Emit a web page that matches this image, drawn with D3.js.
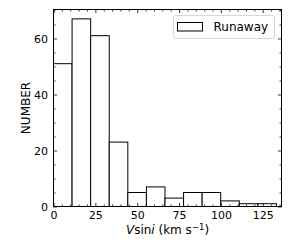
<!DOCTYPE html>
<html>
<head>
<meta charset="utf-8">
<script src="https://cdn.jsdelivr.net/npm/d3@7"></script>
<style>
  body { margin: 0; background: #fff; }
  svg text { font-family: "DejaVu Sans", sans-serif; fill: #000; }
</style>
</head>
<body>
<svg id="chart" width="300" height="240"></svg>
<script>
// histogram bins (km/s) and counts
const binEdges = [0, 11.1, 22.2, 33.3, 44.4, 55.5, 66.6, 77.7, 88.8, 99.9, 111, 122.1, 133.2];
const counts = [51, 67, 61, 23, 5, 7, 3, 5, 5, 2, 1, 1];
const xTicks = [0, 25, 50, 75, 100, 125];
const yTicks = [0, 20, 40, 60];
const legendLabel = "Runaway";

const margin = { top: 9.5, left: 53.5 };
const width = 228, height = 197;

const svg = d3.select("#chart");
const g = svg.append("g").attr("transform", `translate(${margin.left},${margin.top})`);

const x = d3.scaleLinear().domain([0, 136.2]).range([0, width]);
const y = d3.scaleLinear().domain([0, 70.35]).range([height, 0]);

const bins = counts.map((c, i) => ({ x0: binEdges[i], x1: binEdges[i + 1], n: c }));

// bars
g.selectAll("rect.bar")
    .data(bins)
    .enter()
    .append("rect")
    .attr("class", "bar")
    .attr("x", d => x(d.x0))
    .attr("y", d => y(d.n))
    .attr("width", d => x(d.x1) - x(d.x0))
    .attr("height", d => y(0) - y(d.n))
    .attr("fill", "#fff")
    .attr("stroke", "#000")
    .attr("stroke-width", 1);

const minorX = d3.range(0, 136, 5).filter(v => v % 25 !== 0);
const minorY = d3.range(0, 71, 5).filter(v => v % 20 !== 0);

function styleAxis(sel) {
    sel.select(".domain").remove();
    sel.selectAll("line").attr("stroke", "#000").attr("stroke-width", 0.8);
    sel.selectAll("text").style("font-size", "11px").style("font-family", "DejaVu Sans");
}

// bottom
g.append("g").attr("transform", `translate(0,${height})`)
    .call(d3.axisBottom(x).tickValues(xTicks).tickSizeInner(-3.5).tickSizeOuter(0).tickPadding(5))
    .call(styleAxis);
g.append("g").attr("transform", `translate(0,${height})`)
    .call(d3.axisBottom(x).tickValues(minorX).tickSizeInner(-2).tickSizeOuter(0).tickFormat(""))
    .call(styleAxis);
// top
g.append("g")
    .call(d3.axisTop(x).tickValues(xTicks).tickSizeInner(-3.5).tickSizeOuter(0).tickFormat(""))
    .call(styleAxis);
g.append("g")
    .call(d3.axisTop(x).tickValues(minorX).tickSizeInner(-2).tickSizeOuter(0).tickFormat(""))
    .call(styleAxis);
// left
g.append("g")
    .call(d3.axisLeft(y).tickValues(yTicks).tickSizeInner(-3.5).tickSizeOuter(0).tickPadding(5.5))
    .call(styleAxis);
g.append("g")
    .call(d3.axisLeft(y).tickValues(minorY).tickSizeInner(-2).tickSizeOuter(0).tickFormat(""))
    .call(styleAxis);
// right
g.append("g").attr("transform", `translate(${width},0)`)
    .call(d3.axisRight(y).tickValues(yTicks).tickSizeInner(-3.5).tickSizeOuter(0).tickFormat(""))
    .call(styleAxis);
g.append("g").attr("transform", `translate(${width},0)`)
    .call(d3.axisRight(y).tickValues(minorY).tickSizeInner(-2).tickSizeOuter(0).tickFormat(""))
    .call(styleAxis);

// frame
g.append("rect")
    .attr("width", width)
    .attr("height", height)
    .attr("fill", "none")
    .attr("stroke", "#000")
    .attr("stroke-width", 1);

// axis labels
const xl = svg.append("text")
    .attr("x", margin.left + width / 2)
    .attr("y", 234)
    .attr("text-anchor", "middle")
    .style("font-size", "12px");
xl.append("tspan").style("font-style", "italic").text("V");
xl.append("tspan").text("sin");
xl.append("tspan").style("font-style", "italic").text("i");
xl.append("tspan").text(" (km s");
xl.append("tspan").attr("dy", -4.5).style("font-size", "8.5px").text("\u22121");
xl.append("tspan").attr("dy", 4.5).text(")");

svg.append("text")
    .attr("transform", `translate(29.5,${margin.top + height / 2}) rotate(-90)`)
    .attr("text-anchor", "middle")
    .style("font-size", "12px")
    .text("NUMBER");

// legend
const legend = svg.append("g").attr("transform", "translate(173.5,15.5)");
legend.append("rect")
    .attr("width", 101)
    .attr("height", 23)
    .attr("rx", 2.5)
    .attr("fill", "#fff")
    .attr("fill-opacity", 0.8)
    .attr("stroke", "#d6d6d6")
    .attr("stroke-width", 1);
legend.append("rect")
    .attr("x", 4)
    .attr("y", 7)
    .attr("width", 25)
    .attr("height", 8.5)
    .attr("fill", "#fff")
    .attr("stroke", "#000")
    .attr("stroke-width", 1);
legend.append("text")
    .attr("x", 40)
    .attr("y", 15.5)
    .style("font-size", "12px")
    .text(legendLabel);
</script>
</body>
</html>
